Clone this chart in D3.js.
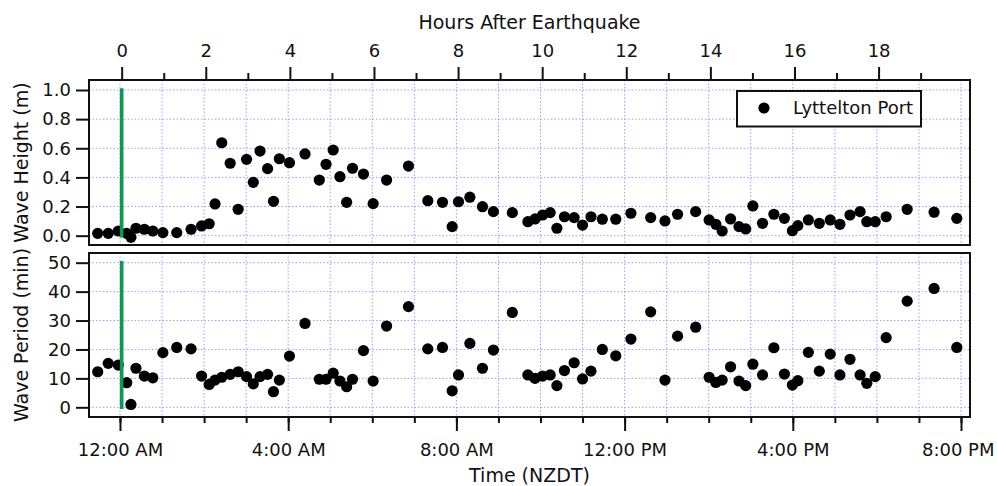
<!DOCTYPE html>
<html>
<head>
<meta charset="utf-8">
<script src="https://cdn.jsdelivr.net/npm/d3@7"></script>
<style>
  html, body { margin: 0; padding: 0; background: #fff; }
  svg { display: block; }
  text { font-family: "DejaVu Sans", sans-serif; fill: #111; }
</style>
</head>
<body>
<script>
// ---- data (hours after midnight NZDT) ----
const times = [-0.53, -0.28, -0.04, 0.16, 0.26, 0.38, 0.58, 0.78, 1.02, 1.35,
  1.69, 1.94, 2.12, 2.26, 2.42, 2.62, 2.81, 3.01, 3.17, 3.33,
  3.51, 3.65, 3.79, 4.03, 4.40, 4.74, 4.90, 5.07, 5.23, 5.39,
  5.53, 5.79, 6.02, 6.34, 6.86, 7.32, 7.67, 7.90, 8.05, 8.32,
  8.62, 8.88, 9.33, 9.70, 9.87, 10.05, 10.23, 10.39, 10.57, 10.80,
  11.00, 11.20, 11.47, 11.79, 12.15, 12.62, 12.96, 13.26, 13.69, 14.01,
  14.17, 14.32, 14.52, 14.72, 14.88, 15.05, 15.28, 15.55, 15.80, 15.99,
  16.12, 16.37, 16.63, 16.89, 17.12, 17.36, 17.60, 17.76, 17.96, 18.22,
  18.72, 19.36, 19.90];
const waveHeight = [0.016, 0.016, 0.032, 0.016, -0.011, 0.051, 0.044, 0.032, 0.021, 0.021,
  0.044, 0.067, 0.082, 0.218, 0.638, 0.497, 0.181, 0.524, 0.366, 0.581,
  0.460, 0.236, 0.528, 0.501, 0.561, 0.382, 0.490, 0.588, 0.405, 0.229,
  0.463, 0.423, 0.220, 0.382, 0.478, 0.240, 0.229, 0.062, 0.233, 0.264,
  0.199, 0.165, 0.158, 0.096, 0.115, 0.142, 0.158, 0.051, 0.130, 0.124,
  0.073, 0.130, 0.113, 0.113, 0.154, 0.124, 0.101, 0.147, 0.165, 0.108,
  0.078, 0.032, 0.115, 0.062, 0.046, 0.204, 0.085, 0.147, 0.119, 0.034,
  0.069, 0.108, 0.085, 0.108, 0.078, 0.142, 0.165, 0.096, 0.096, 0.130,
  0.181, 0.161, 0.119];
const wavePeriod = [12.3, 15.2, 14.6, 8.5, 1.0, 13.5, 10.8, 10.2, 18.9, 20.7,
  20.2, 10.8, 7.9, 9.4, 10.4, 11.4, 12.3, 10.6, 8.1, 10.6,
  11.4, 5.4, 9.4, 17.7, 29.0, 9.7, 9.7, 11.8, 9.1, 7.1,
  9.7, 19.6, 9.1, 28.1, 34.8, 20.2, 20.7, 5.7, 11.2, 22.1,
  13.5, 19.8, 32.8, 11.2, 10.0, 10.8, 11.2, 7.5, 12.7, 15.4,
  9.8, 12.5, 20.0, 17.8, 23.6, 33.0, 9.4, 24.6, 27.7, 10.4,
  8.6, 9.4, 14.0, 9.1, 7.5, 14.9, 11.2, 20.6, 11.5, 7.7,
  9.2, 19.0, 12.5, 18.4, 11.2, 16.6, 11.2, 8.3, 10.6, 24.1,
  36.7, 41.1, 20.7];
const earthquakeTime = 0.04;           // hours after midnight
const seriesName = "Lyttelton Port";
const timeTickValues = [0, 4, 8, 12, 16, 20];
const timeTickLabels = ["12:00 AM", "4:00 AM", "8:00 AM", "12:00 PM", "4:00 PM", "8:00 PM"];
const hourTickValues = d3.range(0, 20);             // 0..19 hours after quake
const heightTicks = [0, 0.2, 0.4, 0.6, 0.8, 1.0];
const periodTicks = [0, 10, 20, 30, 40, 50];

// ---- layout ----
const W = 997, H = 486;
const L = 89, R = 970;
const topP = { y0: 80, y1: 245 };
const botP = { y0: 253, y1: 417 };
const gridColor = "#9d9dff";

const svg = d3.select("body").append("svg").attr("width", W).attr("height", H);

const x = d3.scaleLinear().domain([-0.737, 20.214]).range([L, R]);
const xTop = d3.scaleLinear().domain([-0.737 - earthquakeTime, 20.214 - earthquakeTime]).range([L, R]);
const yH = d3.scaleLinear().domain([-0.064, 1.0686]).range([topP.y1, topP.y0]);
const yP = d3.scaleLinear().domain([-3.35, 53.35]).range([botP.y1, botP.y0]);

const hourGrid = d3.range(0, 21);

function panel(y, yTicks, fmt, values, p) {
  const g = svg.append("g");
  // grid
  g.append("g").selectAll("line").data(hourGrid).join("line")
    .attr("x1", d => x(d)).attr("x2", d => x(d))
    .attr("y1", p.y0).attr("y2", p.y1)
    .attr("stroke", gridColor).attr("stroke-width", 1).attr("stroke-dasharray", "1.5,2");
  g.append("g").selectAll("line").data(yTicks).join("line")
    .attr("x1", L).attr("x2", R)
    .attr("y1", d => y(d)).attr("y2", d => y(d))
    .attr("stroke", gridColor).attr("stroke-width", 1).attr("stroke-dasharray", "1.5,2");
  // y axis
  const ax = g.append("g").attr("transform", `translate(${L},0)`)
    .call(d3.axisLeft(y).tickValues(yTicks).tickFormat(fmt).tickSize(13).tickPadding(5));
  ax.select(".domain").remove();
  ax.selectAll(".tick line").attr("stroke", "#111").attr("stroke-width", 2);
  ax.selectAll(".tick text").style("font-size", "18px").style("font-family", "DejaVu Sans").attr("fill", "#111");
  // points
  g.append("g").selectAll("circle").data(times).join("circle")
    .attr("cx", d => x(d)).attr("cy", (d, i) => y(values[i])).attr("r", 5.6).attr("fill", "#000");
  // earthquake line
  g.append("line")
    .attr("x1", x(earthquakeTime)).attr("x2", x(earthquakeTime))
    .attr("y1", y(0)).attr("y2", y(yTicks[yTicks.length - 1]))
    .attr("stroke", "#0c9a4e").attr("stroke-width", 3.6).attr("stroke-linecap", "square");
  // frame
  g.append("rect").attr("x", L).attr("y", p.y0).attr("width", R - L).attr("height", p.y1 - p.y0)
    .attr("fill", "none").attr("stroke", "#111").attr("stroke-width", 2);
}

panel(yH, heightTicks, d3.format(".1f"), waveHeight, topP);
panel(yP, periodTicks, d3.format("d"), wavePeriod, botP);

// bottom time axis
const minorHours = d3.range(0, 21);
const bax = svg.append("g").attr("transform", `translate(0,${botP.y1})`)
  .call(d3.axisBottom(x).tickValues(minorHours).tickSize(6).tickFormat(""));
bax.select(".domain").remove();
bax.selectAll(".tick line").attr("stroke", "#111").attr("stroke-width", 2);
const bax2 = svg.append("g").attr("transform", `translate(0,${botP.y1})`)
  .call(d3.axisBottom(x).tickValues(timeTickValues).tickSize(14).tickPadding(12.5)
    .tickFormat((d, i) => timeTickLabels[i]));
bax2.select(".domain").remove();
bax2.selectAll(".tick line").attr("stroke", "#111").attr("stroke-width", 2);
bax2.selectAll(".tick text").style("font-size", "18px").style("font-family", "DejaVu Sans").attr("fill", "#111");
// keep the last label inside the picture
bax2.selectAll(".tick text").filter(d => d === timeTickValues[timeTickValues.length - 1])
  .attr("text-anchor", "end").attr("x", W - 3 - x(timeTickValues[timeTickValues.length - 1]));

// top hours-after-earthquake axis
const tax = svg.append("g").attr("transform", `translate(0,${topP.y0})`)
  .call(d3.axisTop(xTop).tickValues(hourTickValues.filter(d => d % 2 === 1)).tickSize(7).tickFormat(""));
tax.select(".domain").remove();
tax.selectAll(".tick line").attr("stroke", "#111").attr("stroke-width", 2);
const tax2 = svg.append("g").attr("transform", `translate(0,${topP.y0})`)
  .call(d3.axisTop(xTop).tickValues(hourTickValues.filter(d => d % 2 === 0)).tickSize(13).tickPadding(10)
    .tickFormat(d3.format("d")));
tax2.select(".domain").remove();
tax2.selectAll(".tick line").attr("stroke", "#111").attr("stroke-width", 2);
tax2.selectAll(".tick text").style("font-size", "18px").style("font-family", "DejaVu Sans").attr("fill", "#111");

// titles
const cx = (L + R) / 2;
svg.append("text").attr("x", cx).attr("y", 28.5).attr("text-anchor", "middle")
  .style("font-size", "19px").text("Hours After Earthquake");
svg.append("text").attr("x", cx).attr("y", 481.5).attr("text-anchor", "middle")
  .style("font-size", "19px").text("Time (NZDT)");
svg.append("text").attr("transform", `translate(27.5,${(topP.y0 + topP.y1) / 2}) rotate(-90)`)
  .attr("text-anchor", "middle").style("font-size", "19px").text("Wave Height (m)");
svg.append("text").attr("transform", `translate(27.5,${(botP.y0 + botP.y1) / 2}) rotate(-90)`)
  .attr("text-anchor", "middle").style("font-size", "19px").text("Wave Period (min)");

// legend
const lg = svg.append("g");
lg.append("rect").attr("x", 737).attr("y", 91).attr("width", 184).attr("height", 35.5)
  .attr("fill", "#fff").attr("stroke", "#111").attr("stroke-width", 2);
lg.append("circle").attr("cx", 764).attr("cy", 108).attr("r", 5.6).attr("fill", "#000");
lg.append("text").attr("x", 793).attr("y", 114).style("font-size", "18px").text(seriesName);
</script>
</body>
</html>
